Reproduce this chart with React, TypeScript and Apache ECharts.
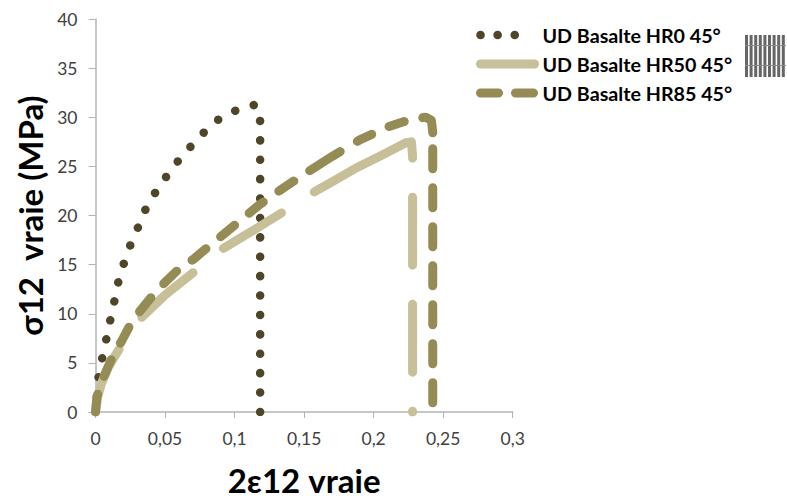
import React, { useEffect, useRef } from "react";
import * as echarts from "echarts";

const seriesNames = ["UD Basalte HR0 45°", "UD Basalte HR50 45°", "UD Basalte HR85 45°"];
const xTicks = ["0", "0,05", "0,1", "0,15", "0,2", "0,25", "0,3"];
const hr0: [number, number][] = [
  [0, 0], [0.0024, 3.9], [0.0053, 5.8], [0.0082, 7.7], [0.011, 9.6], [0.0139, 11.5], [0.0168, 13.5],
  [0.021, 15.4], [0.0256, 17.2], [0.0312, 19], [0.0365, 20.8], [0.0437, 22.5], [0.0516, 24.1],
  [0.0602, 25.7], [0.0696, 27.2], [0.0796, 28.7], [0.0904, 30], [0.1026, 30.8], [0.1155, 31.3],
  [0.1184, 29.6], [0.1184, 0],
];
const hr50: [number, number][] = [
  [0, 0], [0.0015, 1.5], [0.0043, 2.9], [0.0093, 4.6], [0.017, 6.4], [0.025, 8.1], [0.033, 9.6], [0.05, 11.9],
  [0.0703, 14.2], [0.09, 16.5], [0.1125, 18.4], [0.1354, 20.4], [0.1536, 22.1], [0.171, 23.5], [0.187, 24.8],
  [0.2055, 26.1], [0.2232, 27.4], [0.2272, 27.5], [0.228, 26], [0.228, 0],
];
const hr85: [number, number][] = [
  [0, 0], [0.001, 1.5], [0.0035, 2.8], [0.0066, 3.8], [0.0125, 5.7], [0.0187, 7.2], [0.0258, 9.1],
  [0.0316, 10.2], [0.0425, 12.1], [0.05, 13.2], [0.0617, 14.8], [0.07, 15.5], [0.0818, 16.9],
  [0.1, 19], [0.117, 21], [0.133, 22.6], [0.15, 24.2], [0.17, 26], [0.19, 27.7], [0.21, 29],
  [0.2268, 29.8], [0.2375, 30], [0.2415, 29.7], [0.2425, 28.5], [0.2425, 0],
];
const iconBars = [0, 1, 2, 3, 4, 5, 6, 7, 8];
const iconRails = [0, 1];

const FONT = "Lato";
const COLORS = ["#4F4629", "#C6BF98", "#958C55"];
const DASH_HR50 = [68, 39, 68, 39, 68, 39, 126, 39, 68, 39, 68, 39, 68, 39];
const DASH_HR85 = [
  18, 19, 18, 19, 18, 19, 18, 19, 18, 19, 18, 19, 18, 19, 18, 19, 18, 19,
  36, 20, 16, 19, 16, 19, 22, 16,
  20, 19, 20, 19, 20, 19, 20, 19, 20, 19, 20, 19, 20, 19, 20, 19,
];

export default function App() {
  const ref = useRef<HTMLDivElement>(null);
  useEffect(() => {
    const chart = echarts.init(ref.current!, undefined, { renderer: "svg" });
    const line = (
      name: string,
      data: [number, number][],
      color: string,
      width: number,
      dash: number[],
      dashOffset: number,
    ) => ({
      name,
      type: "line",
      data,
      showSymbol: false,
      symbol: "circle",
      symbolSize: 0,
      smooth: false,
      clip: true,
      lineStyle: { color, width, type: dash, dashOffset, cap: "round", join: "round" },
      itemStyle: { color },
    });
    chart.setOption({
      animation: false,
      backgroundColor: "#ffffff",
      grid: { left: 95.5, right: 274.3, top: 19, bottom: 87 },
      xAxis: {
        type: "value",
        min: 0,
        max: 0.3,
        interval: 0.05,
        name: "2ε12 vraie",
        nameLocation: "middle",
        nameGap: 51,
        nameTextStyle: { fontFamily: FONT, fontWeight: "bold", fontSize: 33, color: "#000" },
        axisLine: { lineStyle: { color: "#B3B3B3", width: 1.5 } },
        axisTick: { length: 6, lineStyle: { color: "#B3B3B3", width: 1 } },
        axisLabel: {
          fontFamily: FONT, fontSize: 17.5, color: "#404040", margin: 17,
          formatter: (_v: number, i: number) => xTicks[i],
        },
        splitLine: { show: false },
      },
      yAxis: {
        type: "value",
        min: 0,
        max: 40,
        interval: 5,
        name: "σ12  vraie (MPa)",
        nameLocation: "middle",
        nameGap: 49,
        nameRotate: 90,
        nameTextStyle: { fontFamily: FONT, fontWeight: "bold", fontSize: 33, color: "#000" },
        axisLine: { show: true, lineStyle: { color: "#B3B3B3", width: 1.5 } },
        axisTick: { show: true, length: 7, lineStyle: { color: "#B3B3B3", width: 1 } },
        axisLabel: { fontFamily: FONT, fontSize: 17.5, color: "#404040", margin: 18 },
        splitLine: { show: false },
      },
      legend: {
        orient: "vertical",
        left: 471,
        top: 20,
        itemWidth: 54,
        itemHeight: 8,
        itemGap: 9,
        selectedMode: false,
        lineStyle: { width: "inherit", dashOffset: 0 },
        itemStyle: { opacity: 0 },
        data: [
          { name: seriesNames[0], lineStyle: { type: [0.1, 17, 0.1, 17, 0.1, 40], dashOffset: 0 } },
          { name: seriesNames[1], lineStyle: { type: "solid" } },
          { name: seriesNames[2], lineStyle: { type: [18, 17], dashOffset: 0 } },
        ],
        textStyle: { fontFamily: FONT, fontWeight: "bold", fontSize: 19.7, color: "#000", padding: [0, 0, 0, 3], lineHeight: 20 },
      },
      series: [
        line(seriesNames[0], hr0, COLORS[0], 8.5, [0.1, 19.3], 4),
        line(seriesNames[1], hr50, COLORS[1], 9, DASH_HR50, 0),
        line(seriesNames[2], hr85, COLORS[2], 9, DASH_HR85, 0),
      ],
      graphic: [
        {
          type: "group",
          x: 745,
          y: 35,
          silent: true,
          children: [
            ...iconBars.map((i) => ({
              type: "rect",
              shape: { x: i * 4.6, y: 0, width: 3, height: 42 },
              style: { fill: "#666666" },
            })),
            ...iconRails.map((i) => ({
              type: "rect",
              shape: { x: 0, y: 10 + i * 20, width: 41, height: 1 },
              style: { fill: "#8a8a8a" },
            })),
          ],
        },
      ],
    });
    return () => chart.dispose();
  }, []);
  return <div ref={ref} style={{ position: "fixed", left: 0, top: 0, width: 787, height: 501 }} />;
}
